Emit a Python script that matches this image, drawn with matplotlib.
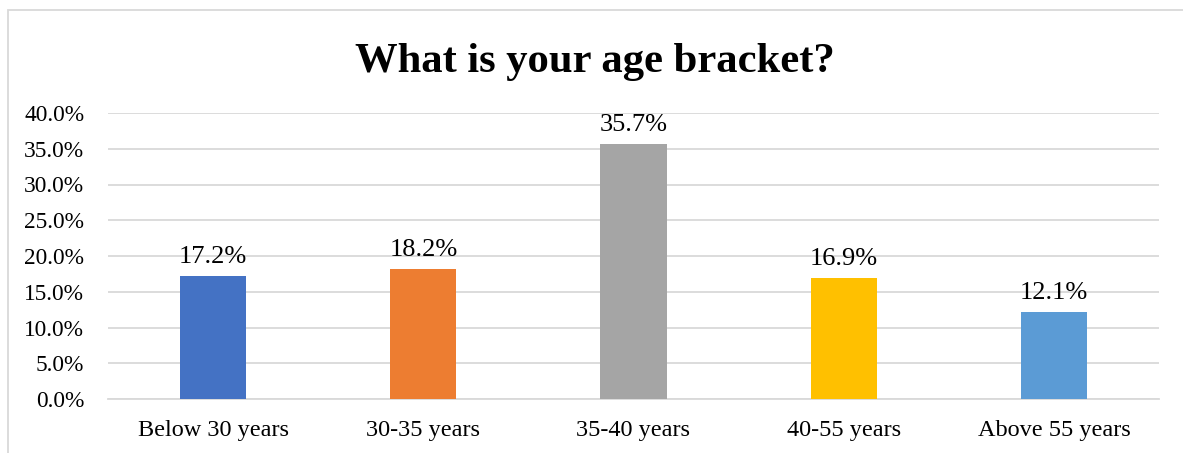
import matplotlib
matplotlib.use("Agg")
import matplotlib.pyplot as plt
from matplotlib.patches import Rectangle
from matplotlib.ticker import FuncFormatter, MultipleLocator

categories = ["Below 30 years", "30-35 years", "35-40 years", "40-55 years", "Above 55 years"]
values = [17.2, 18.2, 35.7, 16.9, 12.1]
colors = ["#4472C4", "#ED7D31", "#A5A5A5", "#FFC000", "#5B9BD5"]
title = "What is your age bracket?"

plt.rcParams['font.family'] = ['Liberation Serif', 'DejaVu Serif']

W, H = 1183, 453
fig = plt.figure(figsize=(W / 100, H / 100), dpi=100)
ax = fig.add_axes([108 / W, 1 - 399 / H, (1159 - 108) / W, (399 - 113) / H])

x = list(range(len(categories)))
bars = ax.bar(x, values, width=0.314, color=colors, zorder=3)
for xi, v in zip(x, values):
    ax.annotate(f"{v:.1f}%", (xi, v), xytext=(0, 9.5), textcoords="offset points",
                ha="center", va="baseline", fontsize=19, color="#000000")

ax.set_xlim(-0.5, len(categories) - 0.5)
ax.set_ylim(0, 40)
ax.yaxis.set_major_locator(MultipleLocator(5))
ax.yaxis.set_major_formatter(FuncFormatter(lambda v, p: f"{v:.1f}%"))
ax.grid(axis="y", color="#D9D9D9", linewidth=1.3, zorder=0)
ax.set_xticks(x)
ax.set_xticklabels(categories)
ax.tick_params(axis="y", length=0, labelsize=16.8, colors="#000000", pad=17)
ax.tick_params(axis="x", length=0, labelsize=17.5, colors="#000000", pad=15)
for s in ["top", "right", "left"]:
    ax.spines[s].set_visible(False)
ax.spines["bottom"].set_color("#D9D9D9")
ax.spines["bottom"].set_linewidth(1.3)

fig.text(595 / W, 1 - 72 / H, title, ha="center", va="baseline", fontsize=30.7, fontweight="bold")

# chart-area border (left and top only visible)
fig.patches.append(Rectangle((8 / W, -0.1), 1.2, 1 - 10 / H + 0.1, transform=fig.transFigure,
                             fill=False, edgecolor="#D9D9D9", linewidth=1.3))

fig.savefig("out.png", dpi=100)
